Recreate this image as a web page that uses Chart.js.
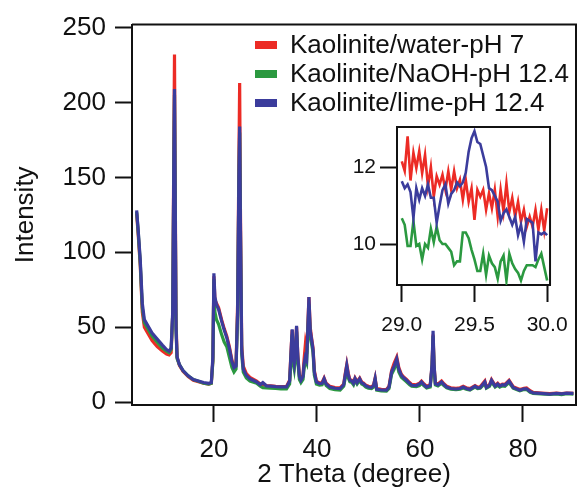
<!DOCTYPE html>
<html><head><meta charset="utf-8">
<script src="https://cdn.jsdelivr.net/npm/chart.js@4"></script>
<style>
html,body{margin:0;padding:0;background:#fff;}
#wrap{position:relative;width:579px;height:488px;overflow:hidden;background:#fff;}
#main{position:absolute;left:0;top:0;}
#inset{position:absolute;left:340px;top:110px;}
#legend{position:absolute;left:0;top:0;font-family:Arial,"Liberation Sans",Helvetica,sans-serif;font-size:26px;color:#111;}
.row{position:absolute;white-space:nowrap;line-height:29.2px;height:29.2px;}
.sw{position:absolute;width:22px;height:8px;}
</style></head>
<body>
<div id="wrap">
<canvas id="main" width="579" height="488"></canvas>
<canvas id="inset" width="239" height="235"></canvas>
<div id="legend"></div>
</div>
<script>
// ---------- DATA ----------
const seriesNames = ['Kaolinite/water-pH 7', 'Kaolinite/NaOH-pH 12.4', 'Kaolinite/lime-pH 12.4'];
const seriesColors = ['#ec2b25', '#2b9940', '#3b3c9c'];

const twoTheta = [5.0,5.3,5.7,6.1,6.5,7.0,8.0,9.0,10.0,10.8,
11.3,11.7,12.0,12.2,12.35,12.5,12.65,12.85,13.3,14.0,
15.0,16.0,17.0,18.0,19.0,19.5,19.8,20.0,20.2,20.5,
20.9,21.5,22.0,22.5,23.0,23.5,23.9,24.3,24.6,24.85,
25.0,25.15,25.4,25.7,26.3,27.0,28.3,29.0,29.5,30.2,
31.0,32.0,33.0,34.1,34.7,35.0,35.2,35.4,35.6,35.85,
36.05,36.3,36.6,36.9,37.3,37.5,37.75,38.0,38.2,38.45,
38.7,39.0,39.25,39.5,39.9,40.5,41.0,41.4,41.8,42.5,
43.5,44.5,45.2,45.5,45.8,46.1,46.4,46.8,47.1,47.4,
47.8,48.3,48.7,49.0,49.5,50.0,50.6,51.0,51.3,51.6,
52.5,53.5,54.0,54.5,55.0,55.5,55.9,56.4,56.9,57.4,
58.0,58.4,59.3,59.9,60.3,60.8,61.3,62.0,62.35,62.55,
62.75,63.0,63.5,64.2,64.7,65.2,66.0,67.0,67.8,68.4,
69.0,69.7,70.7,71.2,71.7,72.6,72.9,73.5,73.9,74.6,
75.1,75.5,76.0,76.5,77.3,78.1,79.4,80.2,80.7,81.4,
82.0,83.5,85.2,86.5,87.5,88.5,89.8];

const waterPH7 = [126,112,91,60,50,47,41,37,34,32,
31.5,33,58,160,232,140,55,30,24.5,20.5,
17,14.5,13.5,12.5,12,12.5,28,84,68,66,
63,55,49,44,37,28,24,25,65,160,
213,130,38,24,19,16.5,14,12.1,11.5,11.0,
10.8,10.5,10.3,10.3,14.5,36,48,31,26,36,
50,31,18,15.5,18,28,38,32,48,70,
50,42,36,21,14,12.8,13,16,12.5,10.5,
9.6,9.5,12,19,25,19,15,14.5,13,16,
13.5,16,13.3,12.8,11.3,10.5,10,11.5,16,9,
8.4,8.3,10.5,21,26,30,23,18.5,16.5,15,
13,11.8,11.5,12.5,14,12,10.5,11.5,24,45,
24,12.8,12,14,12,10.5,9.5,9.2,9.5,10.5,
9.5,8.9,11,10,10.2,14,10.2,11.5,15,11,
12.5,11,12,11.8,14.5,10.2,8.3,9.2,9.4,7.5,
6.4,6,5.6,6,5.6,6,5.8];

const naohPH124 = [127,114,93,63,53,50,44,40,36,34,
33,35,58,145,205,125,48,29,25,21,
17.5,15,13.8,12.5,12,12.5,27,82,60,55,
52,45,40,37,30,23,20,22,58,145,
180,115,32,20,16,14,12.5,10.6,9.6,9.4,
9.3,9.0,8.8,8.8,12,30,45,26,22,30,
47,27,15,13,15,22,28,26,42,65,
44,38,33,18,12,11.3,11.5,14.5,11,9,
8.3,8,10.5,16,22,16,13.5,13,11.5,14.5,
12,14.5,12,11.5,10,9.3,9,10,14.5,8,
7.4,7.3,9,18.5,22,27,20,16.5,15,13.5,
11.5,10.5,10.3,11,12.5,10.8,9.4,10,23,44,
22,11.5,10.8,12.5,10.8,9.4,8.5,8.2,8.5,9.4,
8.5,8,10,9,9.2,12.5,9.2,10.4,13.5,10,
11.2,10,10.8,10.5,13,9.2,7.5,8.3,8.3,6.5,
5.7,5.4,5,5.4,5,5.5,5.3];

const limePH124 = [128,115,95,66,55,52,46,42,38,35,
34,36,60,150,209,130,50,30,25,21,
17.5,15,14,13,12.5,13,30,86,70,65,
62,54,48,43,36,27,23,24,60,150,
184,120,35,22,17.8,15.5,13.4,11.6,12.9,10.8,
10.6,10.3,10.1,10.1,14,35,48.6,30,25.5,35,
50.8,30,17,14.5,17,25,30,28,45,70,
48,41,35,20,13.4,12.3,12.5,15.6,12,10,
9.2,9,11.5,18,24.4,18,14.5,14,12.5,15.6,
13,15.6,12.8,12.3,10.8,10,9.6,11,15.6,8.5,
8,7.9,10,20,24,28.8,22,17.8,16,14.5,
12.5,11.2,11,12,13.4,11.5,10,11,25,47.5,
25,12.3,11.5,13.4,11.5,10,9,8.7,9,10,
9,8.4,10.6,9.5,9.7,13.4,9.7,11,14.5,10.6,
12,10.6,11.5,11.2,14,9.7,7.9,8.8,8.8,7,
6.1,5.8,5.3,5.8,5.4,5.9,5.7];

// inset (29.0 - 30.0 degrees)
const insetTheta = [29.00,29.02,29.04,29.06,29.08,29.10,29.12,29.14,29.16,29.18,
29.20,29.22,29.24,29.26,29.28,29.30,29.32,29.34,29.36,29.38,
29.40,29.42,29.44,29.46,29.48,29.50,29.52,29.54,29.56,29.58,
29.60,29.62,29.64,29.66,29.68,29.70,29.72,29.74,29.76,29.78,
29.80,29.82,29.84,29.86,29.88,29.90,29.92,29.94,29.96,29.98,
30.00];

const insetWater = [12.15,11.9,12.8,11.65,12.37,11.97,12.41,11.84,12.32,11.5,
12.0,11.23,11.76,11.54,11.8,11.41,11.89,11.41,11.89,11.45,
11.67,11.15,11.67,11.1,11.45,10.63,11.41,11.23,11.41,10.89,
11.32,10.93,11.41,10.71,11.41,10.84,11.58,10.84,11.2,10.71,
11.1,10.58,10.89,10.45,10.71,10.45,10.89,10.37,10.89,10.35,
10.93];

const insetNaoh = [10.67,10.5,9.95,9.95,10.6,9.95,10.0,9.6,10.0,9.9,
10.4,10.05,10.45,10.1,10.0,10.0,9.9,9.8,9.45,9.55,
9.55,10.3,10.3,10.15,9.85,9.6,9.3,9.3,9.75,9.2,
9.7,9.5,9.4,9.1,9.55,9.7,9.05,9.75,9.5,9.35,
9.25,9.05,9.3,9.45,9.45,9.45,9.4,9.6,9.75,9.4,
9.05];

const insetLime = [11.63,11.45,11.55,11.35,10.67,11.45,11.15,11.45,11.25,11.55,
11.2,11.2,10.55,11.0,11.4,11.55,11.05,11.3,11.4,11.6,
11.5,11.6,11.85,12.4,12.75,12.93,12.65,12.6,12.3,12.0,
11.45,11.4,11.25,11.1,10.6,10.8,10.9,10.7,10.5,10.7,
10.23,10.5,10.06,10.65,10.6,10.55,9.55,10.3,10.25,10.3,
10.23];

const mainXTicks = [20, 40, 60, 80];
const mainYTicks = [0, 50, 100, 150, 200, 250];
const insetXTicks = [29.0, 29.5, 30.0];
const insetYTicks = [10, 12];

// ---------- CHARTS ----------
const FAMILY = 'Arial, "Liberation Sans", Helvetica, sans-serif';
const INK = '#111';
Chart.defaults.font.family = FAMILY;
Chart.defaults.color = INK;

const framePlugin = {
  id: 'frame',
  afterDatasetsDraw(chart) {
    const {ctx, chartArea: {left, top, right, bottom}} = chart;
    ctx.save();
    ctx.strokeStyle = INK;
    ctx.lineWidth = 2;
    ctx.beginPath();
    ctx.moveTo(left, top);
    ctx.lineTo(right, top);
    ctx.lineTo(right, bottom);
    ctx.stroke();
    ctx.restore();
  }
};

function makeSets(xs, ys, width) {
  return ys.map((arr, k) => ({
    label: seriesNames[k],
    data: xs.map((x, i) => ({x: x, y: arr[i]})),
    borderColor: seriesColors[k],
    backgroundColor: seriesColors[k],
    borderWidth: width,
    pointRadius: 0,
    tension: 0,
    fill: false,
    order: 3 - k
  }));
}

function axis(opts) {
  return Object.assign({
    type: 'linear',
    grid: {drawOnChartArea: false, drawTicks: true, tickLength: 17, tickWidth: 2, tickColor: INK},
    border: {display: true, color: INK, width: 2}
  }, opts);
}

new Chart(document.getElementById('main'), {
  type: 'line',
  data: {datasets: makeSets(twoTheta, [waterPH7, naohPH124, limePH124], 3.2)},
  options: {
    responsive: false,
    animation: false,
    layout: {padding: {left: 0, right: 3, top: 20, bottom: 0}},
    plugins: {legend: {display: false}, tooltip: {enabled: false}},
    scales: {
      x: axis({
        min: 4.1, max: 90.3,
        afterBuildTicks: s => { s.ticks = mainXTicks.map(v => ({value: v})); },
        afterFit: s => { s.height = 83; },
        ticks: {font: {size: 26}, color: INK, padding: 12, maxRotation: 0, autoSkip: false},
        title: {display: true, text: '2 Theta (degree)', color: INK, font: {size: 26, lineHeight: 1}, padding: {top: 0, bottom: 0}}
      }),
      y: axis({
        min: -2, max: 252,
        afterBuildTicks: s => { s.ticks = mainYTicks.map(v => ({value: v})); },
        afterFit: s => { s.width = 132; },
        ticks: {font: {size: 26}, color: INK, padding: 9, autoSkip: false},
        title: {display: true, text: 'Intensity', color: INK, font: {size: 26, lineHeight: 1}, padding: {top: 13, bottom: 0}}
      })
    }
  },
  plugins: [framePlugin]
});

new Chart(document.getElementById('inset'), {
  type: 'line',
  data: {datasets: makeSets(insetTheta, [insetWater, insetNaoh, insetLime], 2.6)},
  options: {
    responsive: false,
    animation: false,
    layout: {padding: {left: 0, right: 23, top: 17, bottom: 0}},
    plugins: {legend: {display: false}, tooltip: {enabled: false}},
    scales: {
      x: axis({
        min: 28.967, max: 30.02,
        afterBuildTicks: s => { s.ticks = insetXTicks.map(v => ({value: v})); },
        afterFit: s => { s.height = 60; },
        ticks: {font: {size: 21}, color: INK, padding: 11, maxRotation: 0, autoSkip: false,
                callback: v => Number(v).toFixed(1)}
      }),
      y: axis({
        min: 8.935, max: 13.04,
        afterBuildTicks: s => { s.ticks = insetYTicks.map(v => ({value: v})); },
        afterFit: s => { s.width = 57; },
        ticks: {font: {size: 21}, color: INK, padding: 4, autoSkip: false}
      })
    }
  },
  plugins: [framePlugin]
});

// ---------- LEGEND (HTML text) ----------
const legend = document.getElementById('legend');
seriesNames.forEach((name, k) => {
  const top = 30 + k * 29.2;
  const sw = document.createElement('div');
  sw.className = 'sw';
  sw.style.left = '255px';
  sw.style.top = (top + 11) + 'px';
  sw.style.background = seriesColors[k];
  legend.appendChild(sw);
  const row = document.createElement('div');
  row.className = 'row';
  row.style.left = '290px';
  row.style.top = top + 'px';
  row.textContent = name;
  legend.appendChild(row);
});
</script>
</body></html>
